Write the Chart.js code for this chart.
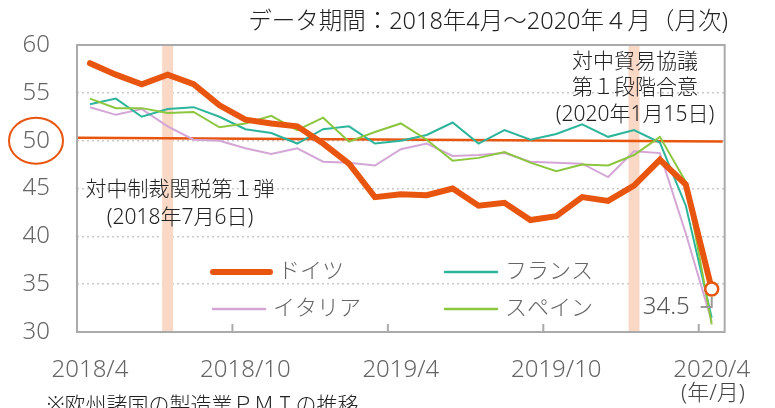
<!DOCTYPE html>
<html>
<head>
<meta charset="utf-8">
<script src="https://cdn.jsdelivr.net/npm/chart.js@4/dist/chart.umd.min.js"></script>
<style>
  html, body { margin: 0; padding: 0; background: #fff; }
  #wrap { width: 775px; height: 408px; }
</style>
</head>
<body>
<div id="wrap"><canvas id="pmiChart" width="775" height="408"></canvas></div>
<script>
// months 2018/4 .. 2020/4
const months = [
  '2018/4', '2018/5', '2018/6', '2018/7', '2018/8', '2018/9', '2018/10', '2018/11', '2018/12',
  '2019/1', '2019/2', '2019/3', '2019/4', '2019/5', '2019/6', '2019/7', '2019/8', '2019/9',
  '2019/10', '2019/11', '2019/12', '2020/1', '2020/2', '2020/3', '2020/4'
];
const germany = [58.1, 56.9, 55.9, 56.9, 55.9, 53.7, 52.2, 51.8, 51.5, 49.7, 47.6, 44.1, 44.4,
  44.3, 45.0, 43.2, 43.5, 41.7, 42.1, 44.1, 43.7, 45.3, 48.0, 45.4, 34.5];
const france = [53.8, 54.4, 52.5, 53.3, 53.5, 52.5, 51.2, 50.8, 49.7, 51.2, 51.5, 49.7, 50.0,
  50.6, 51.9, 49.7, 51.1, 50.1, 50.7, 51.7, 50.4, 51.1, 49.8, 43.2, 31.5];
const italy = [53.5, 52.7, 53.3, 51.5, 50.1, 50.0, 49.2, 48.6, 49.2, 47.8, 47.7, 47.4, 49.1,
  49.7, 48.4, 48.5, 48.7, 47.8, 47.7, 47.6, 46.2, 48.9, 48.7, 40.3, 31.1];
const spain = [54.4, 53.4, 53.4, 52.9, 53.0, 51.4, 51.8, 52.6, 51.1, 52.4, 49.9, 50.9, 51.8,
  50.1, 47.9, 48.2, 48.8, 47.7, 46.8, 47.5, 47.4, 48.5, 50.4, 45.7, 30.8];
const yTicks = [30, 35, 40, 45, 50, 55, 60];
const eventMonths = ['2018/7', '2020/1'];   // tariff start, phase-one deal
const refLine = [50.3, 49.9];                // hand-drawn 50 line (left end, right end)

const ORANGE = '#e8550f';
const TEAL = '#2db59c';
const LAVENDER = '#d3a6d6';
const GREEN = '#8cc63f';
const FONT = '"Noto Sans", "Noto Sans CJK JP", sans-serif';

const decor = {
  id: 'decor',
  beforeDatasetsDraw(chart) {
    const { ctx, chartArea: a, scales: { x, y } } = chart;
    ctx.save();
    // shaded event columns
    ctx.fillStyle = '#fad8c6';
    eventMonths.forEach(m => {
      const px = x.getPixelForValue(months.indexOf(m));
      ctx.fillRect(px - 5.5, a.top, 11, a.bottom - a.top);
    });
    // 50 line
    ctx.strokeStyle = ORANGE;
    ctx.lineWidth = 2.5;
    ctx.beginPath();
    ctx.moveTo(a.left, y.getPixelForValue(refLine[0]));
    ctx.lineTo(a.right - 2, y.getPixelForValue(refLine[1]));
    ctx.stroke();
    ctx.restore();
  },
  afterDatasetsDraw(chart) {
    const { ctx, chartArea: a, scales: { x, y } } = chart;
    ctx.save();
    // frame
    ctx.strokeStyle = '#aaaaaa';
    ctx.lineWidth = 2;
    ctx.strokeRect(a.left, a.top, a.right - a.left, a.bottom - a.top);
    // inward ticks at half-year boundaries
    const half = (x.getPixelForValue(1) - x.getPixelForValue(0)) / 2;
    months.forEach((m, i) => {
      if (i > 0 && i % 6 === 0) {
        const px = x.getPixelForValue(i) - half;
        ctx.beginPath();
        ctx.moveTo(px, a.bottom);
        ctx.lineTo(px, a.bottom - 8);
        ctx.stroke();
      }
    });
    // leader for last value
    const last = germany.length - 1;
    const lx = x.getPixelForValue(last);
    const ly = y.getPixelForValue(germany[last]);
    ctx.strokeStyle = '#999';
    ctx.lineWidth = 2;
    ctx.beginPath();
    ctx.moveTo(lx, ly + 8);
    ctx.lineTo(lx, ly + 18);
    ctx.lineTo(lx - 11, ly + 18);
    ctx.stroke();
    ctx.fillStyle = '#555';
    ctx.font = '300 24px ' + FONT;
    ctx.textAlign = 'right';
    ctx.textBaseline = 'middle';
    ctx.fillText(germany[last].toFixed(1), lx - 22, ly + 18);

    // legend
    const items = [
      { t: 'ドイツ', c: ORANGE, w: 6, x: 213, y: 272 },
      { t: 'フランス', c: TEAL, w: 2.5, x: 445, y: 272 },
      { t: 'イタリア', c: LAVENDER, w: 2.5, x: 213, y: 309 },
      { t: 'スペイン', c: GREEN, w: 2.5, x: 445, y: 309 }
    ];
    ctx.textAlign = 'left';
    ctx.font = '300 22px ' + FONT;
    items.forEach(it => {
      const len = it.t === 'ドイツ' ? 57 : 52;
      ctx.strokeStyle = it.c;
      ctx.lineWidth = it.w;
      ctx.lineCap = 'round';
      ctx.beginPath();
      ctx.moveTo(it.x, it.y);
      ctx.lineTo(it.x + len, it.y);
      ctx.stroke();
      ctx.fillStyle = '#666';
      ctx.fillText(it.t, it.x + len + 8, it.y);
    });

    // annotations
    ctx.fillStyle = '#222';
    ctx.textAlign = 'center';
    ctx.font = '300 21px ' + FONT;
    ctx.fillText('対中制裁関税第１弾', 180, 190);
    ctx.fillText('(2018年7月6日)', 180, 218);
    ctx.fillText('対中貿易協議', 635, 62);
    ctx.fillText('第１段階合意', 635, 88);
    ctx.fillText('(2020年1月15日)', 635, 115);

    // title
    ctx.textAlign = 'right';
    ctx.font = '300 23.5px ' + FONT;
    ctx.fillText('データ期間：2018年4月～2020年４月（月次)', 728, 22);

    // footnote
    ctx.textAlign = 'left';
    ctx.font = '300 21px ' + FONT;
    ctx.fillText('※欧州諸国の製造業ＰＭＩの推移', 47, 406);

    // unit
    ctx.textAlign = 'center';
    ctx.fillStyle = '#444';
    ctx.font = '300 22px ' + FONT;
    ctx.fillText('(年/月)', 713, 394);

    // circle around 50
    ctx.strokeStyle = ORANGE;
    ctx.lineWidth = 2;
    ctx.beginPath();
    ctx.ellipse(36, y.getPixelForValue(50), 27, 23, 0, 0, Math.PI * 2);
    ctx.stroke();
    ctx.restore();
  }
};

const lineSet = (label, data, color, width) => ({
  label, data,
  borderColor: color,
  borderWidth: width,
  pointRadius: 0,
  tension: 0,
  fill: false
});

const germanySet = lineSet('ドイツ', germany, ORANGE, 6);
germanySet.borderCapStyle = 'round';
germanySet.pointRadius = c => (c.dataIndex === germany.length - 1 ? 6.5 : 0);
germanySet.pointBackgroundColor = '#fff';
germanySet.pointBorderColor = ORANGE;
germanySet.pointBorderWidth = 2.5;

new Chart(document.getElementById('pmiChart'), {
  type: 'line',
  data: {
    labels: months,
    datasets: [
      germanySet,
      lineSet('スペイン', spain, GREEN, 2),
      lineSet('フランス', france, TEAL, 2),
      lineSet('イタリア', italy, LAVENDER, 2)
    ]
  },
  options: {
    responsive: false,
    devicePixelRatio: 1,
    animation: false,
    layout: { padding: { top: 45, right: 43, left: 0, bottom: 0 } },
    plugins: { legend: { display: false }, tooltip: { enabled: false } },
    scales: {
      x: {
        offset: true,
        grid: { display: false, drawTicks: false },
        border: { display: false },
        ticks: {
          autoSkip: false,
          maxRotation: 0,
          padding: 24,
          color: '#666',
          font: { family: FONT, size: 24, weight: 300 },
          callback: (v, i) => (i % 6 === 0 ? months[i] : '')
        },
        afterFit: s => { s.height = 76; }
      },
      y: {
        min: yTicks[0],
        max: yTicks[yTicks.length - 1],
        afterBuildTicks: s => { s.ticks = yTicks.map(v => ({ value: v })); },
        grid: {
          drawTicks: false,
          lineWidth: 1.5,
          color: c => (c.tick && (c.tick.value === 30 || c.tick.value === 60) ? 'rgba(0,0,0,0)' : '#c9c9c9')
        },
        border: { display: false, dash: [2, 3] },
        ticks: {
          padding: 27,
          color: '#666',
          font: { family: FONT, size: 24, weight: 300 }
        },
        afterFit: s => { s.width = 77; }
      }
    }
  },
  plugins: [decor]
});
</script>
</body>
</html>
